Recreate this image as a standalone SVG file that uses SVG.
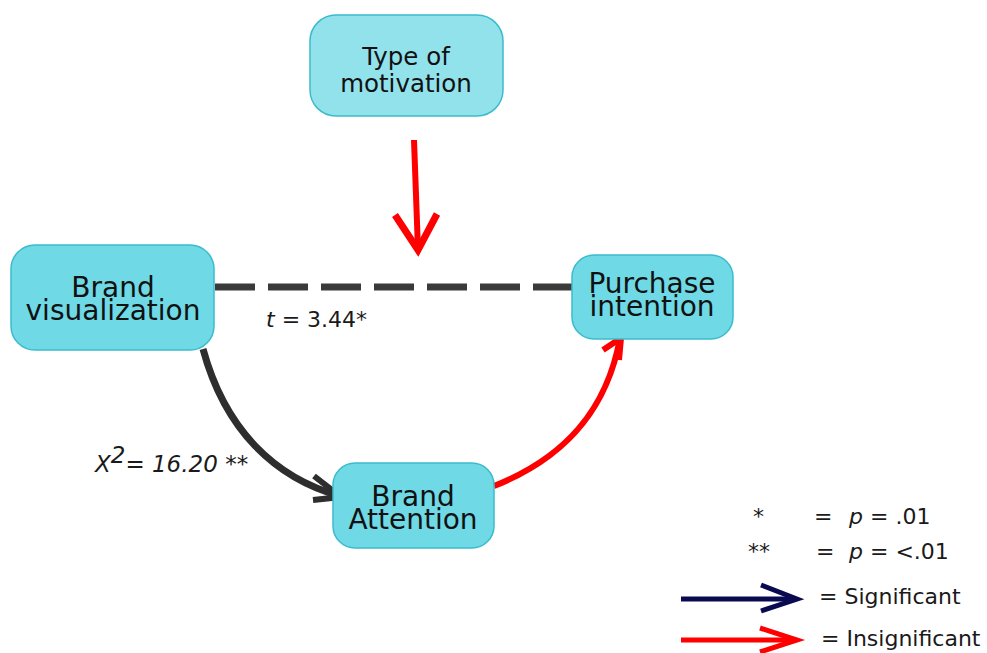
<svg xmlns="http://www.w3.org/2000/svg" width="987" height="653" viewBox="0 0 987 653">
<style>
.node{fill:#6fd9e6;stroke:#3bbccc;stroke-width:1.5}
.light{fill:#92e2ec}
.t{font-family:"DejaVu Sans",Verdana,sans-serif;fill:#111;text-anchor:middle}
.lab{font-family:"DejaVu Sans",Verdana,sans-serif;fill:#1a1a1a}
.conn{fill:none;stroke-linecap:butt}
</style>
<rect width="987" height="653" fill="#fff"/>
<g id="connectors">
<path class="conn" d="M215,287 L572,287" stroke="#3a3a3a" stroke-width="7" stroke-dasharray="40,13"/>
<path class="conn" d="M203,349 C225,430 275,478 340,496" stroke="#2e2e2e" stroke-width="7"/>
<path class="conn" d="M314,476 L341,497 L313,500" stroke="#2e2e2e" stroke-width="6"/>
<path class="conn" d="M494,486 C565,458 607,410 620,338" stroke="#ff0000" stroke-width="6"/>
<path class="conn" d="M603,350 L621,338 L619,360" stroke="#ff0000" stroke-width="6"/>
<path class="conn" d="M414,140 L418,250" stroke="#ff0000" stroke-width="6"/>
<path class="conn" d="M395,215 L418,250 L437,214" stroke="#ff0000" stroke-width="7"/>
</g>
<g id="type-of-motivation">
<rect class="node light" x="310" y="15" width="193" height="101" rx="26"/>
<text class="t" x="406" y="65" font-size="24.5">Type of</text>
<text class="t" x="406" y="92" font-size="24.5">motivation</text>
</g>
<g id="brand-visualization">
<rect class="node" x="11" y="245" width="203" height="105" rx="24"/>
<text class="t" x="113" y="297" font-size="28">Brand</text>
<text class="t" x="113" y="320" font-size="28">visualization</text>
</g>
<g id="purchase-intention">
<rect class="node" x="572" y="255" width="161" height="84" rx="22"/>
<text class="t" x="652" y="293" font-size="28">Purchase</text>
<text class="t" x="652" y="316" font-size="28">intention</text>
</g>
<g id="brand-attention">
<rect class="node" x="333" y="463" width="161" height="85" rx="22"/>
<text class="t" x="413" y="506" font-size="28">Brand</text>
<text class="t" x="413" y="529" font-size="28">Attention</text>
</g>
<g id="labels">
<text class="lab" x="266" y="327" font-size="22"><tspan font-style="italic">t</tspan> = 3.44*</text>
<text class="lab" x="95" y="472" font-size="23" font-style="italic">X<tspan dy="-9">2</tspan><tspan dy="9">= 16.20 **</tspan></text>
</g>
<g id="legend">
<text class="lab" x="753" y="524" font-size="22">*</text>
<text class="lab" x="814" y="524" font-size="22">=</text>
<text class="lab" x="849" y="524" font-size="22"><tspan font-style="italic">p</tspan> = .01</text>
<text class="lab" x="748" y="559" font-size="22">**</text>
<text class="lab" x="816" y="559" font-size="22">=</text>
<text class="lab" x="849" y="559" font-size="22"><tspan font-style="italic">p</tspan> = &lt;.01</text>
<path class="conn" d="M681,599 L796,599" stroke="#0a0a50" stroke-width="5"/>
<path class="conn" d="M761,585 L797,599 L761,611" stroke="#0a0a50" stroke-width="5"/>
<text class="lab" x="819" y="604" font-size="22">= Significant</text>
<path class="conn" d="M681,640 L796,640" stroke="#ff0000" stroke-width="5"/>
<path class="conn" d="M760,628 L797,640 L760,652" stroke="#ff0000" stroke-width="5"/>
<text class="lab" x="821" y="646" font-size="22">= Insignificant</text>
</g>
</svg>
